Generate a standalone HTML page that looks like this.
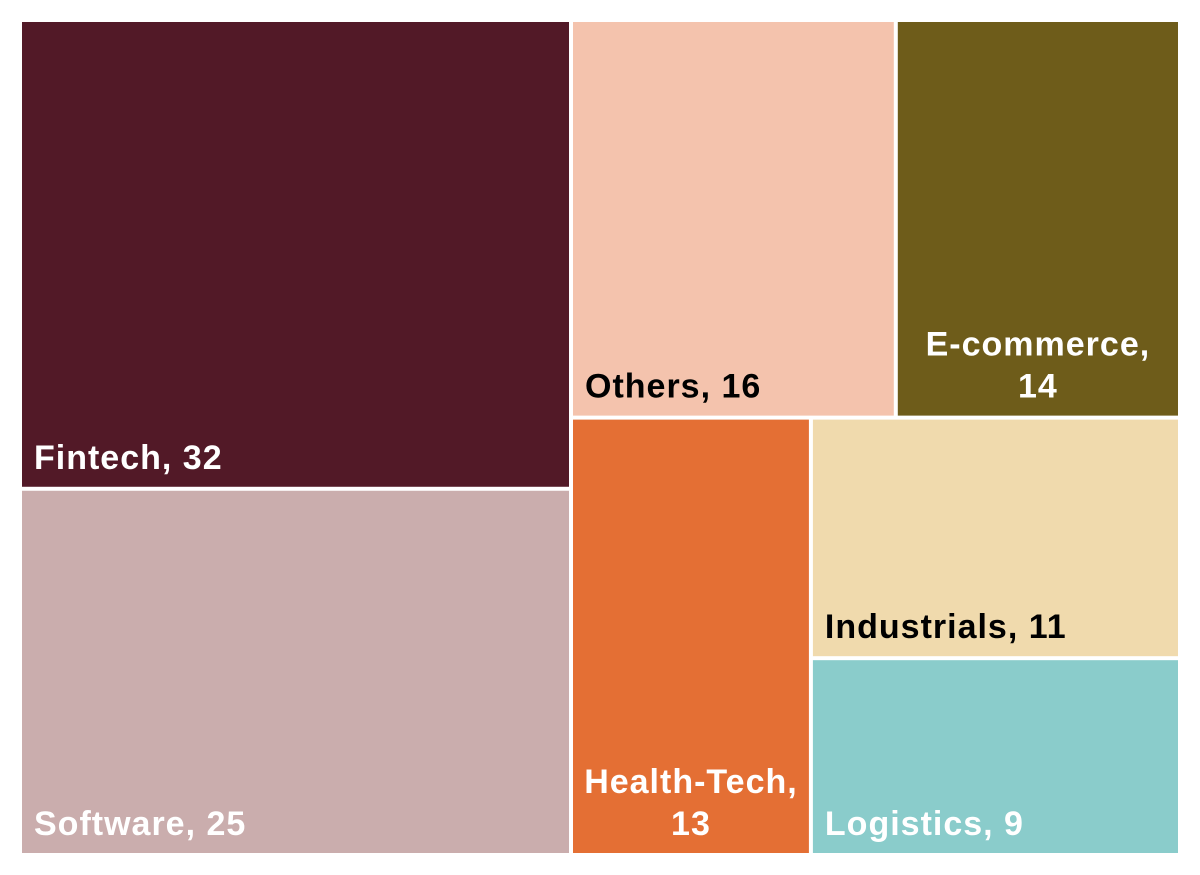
<!DOCTYPE html>
<html><head><meta charset="utf-8"><style>
html,body{margin:0;padding:0;background:#fff;}
svg{display:block;}
text{font-family:"Liberation Sans",Arial,sans-serif;font-weight:bold;font-size:34px;letter-spacing:1px;}
</style></head><body>
<svg id="chart" width="1200" height="875"></svg>
<script>
const categories = ["Fintech","Software","Others","E-commerce","Health-Tech","Industrials","Logistics"];
const values = [32,25,16,14,13,11,9];
const colors = ["#521927","#caadad","#f4c3ad","#6e5c1a","#e46f34","#f0daad","#8acccb"];
const textColors = ["#fff","#fff","#000","#fff","#fff","#000","#fff"];
const labelLines = [["Fintech, 32"],["Software, 25"],["Others, 16"],["E-commerce,","14"],["Health-Tech,","13"],["Industrials, 11"],["Logistics, 9"]];

const svg = document.getElementById('chart');
const NS = 'http://www.w3.org/2000/svg';
const X0=20, Y0=20, X1=1180, Y1=855;
const sum = a => a.reduce((s,v)=>s+v,0);
const rects = [];
const total = sum(values);
const leftW = (values[0]+values[1])/total*(X1-X0);
const lx1 = X0+leftW;
const f0 = values[0]/(values[0]+values[1]);
rects[0]=[X0,Y0,lx1,Y0+f0*(Y1-Y0)];
rects[1]=[X0,rects[0][3],lx1,Y1];
const rightTotal = sum(values.slice(2));
const topH = (values[2]+values[3])/rightTotal*(Y1-Y0);
const ty1 = Y0+topH;
const ox = lx1 + values[2]/(values[2]+values[3])*(X1-lx1);
rects[2]=[lx1,Y0,ox,ty1];
rects[3]=[ox,Y0,X1,ty1];
const botTotal = values[4]+values[5]+values[6];
const hx = lx1 + values[4]/botTotal*(X1-lx1);
rects[4]=[lx1,ty1,hx,Y1];
const iy = ty1 + values[5]/(values[5]+values[6])*(Y1-ty1);
rects[5]=[hx,ty1,X1,iy];
rects[6]=[hx,iy,X1,Y1];

rects.forEach((r,i)=>{
  const g=document.createElementNS(NS,'g');
  
  
  const el=document.createElementNS(NS,'rect');
  
  
  el.setAttribute('x',r[0]+2);el.setAttribute('y',r[1]+2);
  el.setAttribute('width',r[2]-r[0]-4);el.setAttribute('height',r[3]-r[1]-4);
  el.setAttribute('fill',colors[i]);
  g.appendChild(el);
  const lines=labelLines[i];
  const centered=lines.length>1;
  const t=document.createElementNS(NS,'text');
  
  
  t.setAttribute('fill',textColors[i]);
  const bx = centered ? (r[0]+r[2])/2 : r[0]+14;
  if(centered) t.setAttribute('text-anchor','middle');
  lines.forEach((ln,k)=>{
    const ts=document.createElementNS(NS,'tspan');
    ts.setAttribute('x',bx);
    ts.setAttribute('y',r[3]-20-(lines.length-1-k)*42);
    ts.textContent=ln;
    t.appendChild(ts);
  });
  g.appendChild(t);
  svg.appendChild(g);
});
</script>
</body></html>
